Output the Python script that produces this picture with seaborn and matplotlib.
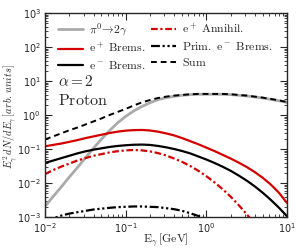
import numpy as np
import pandas as pd
import matplotlib
matplotlib.use("Agg")
import matplotlib.pyplot as plt
import seaborn as sns

# photon energy grid (log10 GeV) and log10 of E^2 dN/dE
log_e = [-2.0, -1.9, -1.8, -1.7, -1.6, -1.5, -1.4, -1.3, -1.2, -1.1,
         -1.0, -0.9, -0.8, -0.7, -0.6, -0.5, -0.4, -0.3, -0.2, -0.1,
         0.0, 0.1, 0.2, 0.3, 0.4, 0.5, 0.6, 0.7, 0.8, 0.9, 1.0]
pion = [-2.69, -2.40, -2.12, -1.83, -1.55, -1.26, -0.98, -0.71, -0.46, -0.23,
        -0.04, 0.12, 0.25, 0.36, 0.45, 0.51, 0.55, 0.58, 0.60, 0.61,
        0.61, 0.61, 0.61, 0.60, 0.58, 0.56, 0.53, 0.50, 0.46, 0.42, 0.37]
pos_brems = [-0.92, -0.88, -0.84, -0.79, -0.74, -0.68, -0.63, -0.58, -0.53, -0.49,
             -0.46, -0.445, -0.44, -0.455, -0.49, -0.54, -0.60, -0.68, -0.77, -0.86,
             -0.96, -1.06, -1.17, -1.28, -1.40, -1.53, -1.68, -1.85, -2.05, -2.29, -2.59]
ele_brems = [-1.41, -1.34, -1.27, -1.20, -1.13, -1.07, -1.02, -0.98, -0.94, -0.91,
             -0.89, -0.875, -0.87, -0.88, -0.91, -0.95, -1.00, -1.06, -1.13, -1.22,
             -1.31, -1.41, -1.52, -1.64, -1.78, -1.93, -2.10, -2.29, -2.50, -2.73, -2.98]
annihil = [-1.74, -1.62, -1.52, -1.43, -1.34, -1.27, -1.20, -1.15, -1.10, -1.065,
           -1.04, -1.03, -1.04, -1.07, -1.12, -1.19, -1.28, -1.38, -1.50, -1.64,
           -1.80, -1.98, -2.18, -2.40, -2.65, -2.92, -3.20, -3.50, -3.85, -4.20, -4.60]
prim_brems = [-3.15, -3.04, -2.96, -2.90, -2.86, -2.82, -2.78, -2.755, -2.73, -2.71,
              -2.70, -2.69, -2.69, -2.70, -2.71, -2.74, -2.77, -2.82, -2.89, -2.97,
              -3.06, -3.20, -3.40, -3.60, -3.90, -4.20, -4.50, -4.80, -5.20, -5.60, -6.00]
total = [-0.72, -0.63, -0.54, -0.45, -0.37, -0.28, -0.19, -0.10, 0.00, 0.09,
         0.18, 0.28, 0.37, 0.44, 0.50, 0.54, 0.57, 0.59, 0.61, 0.62,
         0.62, 0.62, 0.62, 0.61, 0.59, 0.57, 0.54, 0.51, 0.47, 0.43, 0.38]

series = [
    (r"$\pi^0\!\rightarrow\!2\gamma$", pion, "#aaaaaa", 2.0, "-"),
    (r"$\mathrm{e^+\ Brems.}$", pos_brems, "#d40000", 1.6, "-"),
    (r"$\mathrm{e^-\ Brems.}$", ele_brems, "black", 1.6, "-"),
    (r"$\mathrm{e^+\ Annihil.}$", annihil, "#d40000", 1.6, (0, (3, 1.2, 1, 1.2))),
    (r"$\mathrm{Prim.\ e^-\ Brems.}$", prim_brems, "black", 1.6, (0, (4, 1.2, 1, 1.2, 1, 1.2))),
    (r"$\mathrm{Sum}$", total, "black", 1.4, (0, (3, 2))),
]

sns.set_style("ticks")
fig = plt.figure(figsize=(3.0, 2.5), dpi=100)
ax = fig.add_axes([0.15, 0.132, 0.807, 0.816])

energy = 10 ** np.array(log_e)
for label, vals, color, lw, ls in series:
    df = pd.DataFrame({"E": energy, "flux": 10 ** np.array(vals)})
    sns.lineplot(data=df, x="E", y="flux", ax=ax, color=color, lw=lw,
                 linestyle=ls, label=label)

ax.set_xscale("log")
ax.set_yscale("log")
ax.set_xlim(1e-2, 1e1)
ax.set_ylim(1e-3, 1e3)
ax.tick_params(which="both", direction="in", top=True, right=True, labelsize=7, pad=3)
ax.tick_params(which="major", length=5, width=0.8)
ax.tick_params(which="minor", length=2.5, width=0.6)
ax.yaxis.set_minor_locator(matplotlib.ticker.LogLocator(base=10, subs=np.arange(2, 10), numticks=20))
ax.xaxis.set_minor_locator(matplotlib.ticker.LogLocator(base=10, subs=np.arange(2, 10), numticks=20))
for sp in ax.spines.values():
    sp.set_linewidth(1.0)

ax.set_xlabel(r"$\mathrm{E_\gamma\,[GeV]}$", fontsize=8.5, math_fontfamily="cm")
ax.set_ylabel(r"$E_\gamma^2\,dN/dE_\gamma\,[arb.\,units]$", fontsize=7.5,
              math_fontfamily="cm")
ax.xaxis.set_label_coords(0.5, -0.113)
ax.xaxis.label.set_va("center")
ax.yaxis.set_label_coords(-0.145, 0.49)
ax.yaxis.label.set_va("center")

ax.text(0.054, 0.64, r"$\alpha=2$", transform=ax.transAxes, fontsize=11,
        math_fontfamily="cm", va="baseline")
ax.text(0.054, 0.548, r"$\mathrm{Proton}$", transform=ax.transAxes, fontsize=11.5,
        math_fontfamily="cm", va="baseline")

leg = ax.legend(loc="upper left", ncol=2, frameon=False, fontsize=8.5,
                handlelength=2.1, handletextpad=0.5, columnspacing=0.5,
                labelspacing=0.3, bbox_to_anchor=(0.054, 0.96), borderaxespad=0,
                borderpad=0)
for t in leg.get_texts():
    t.set_math_fontfamily("cm")

fig.savefig("out.png", dpi=100)
